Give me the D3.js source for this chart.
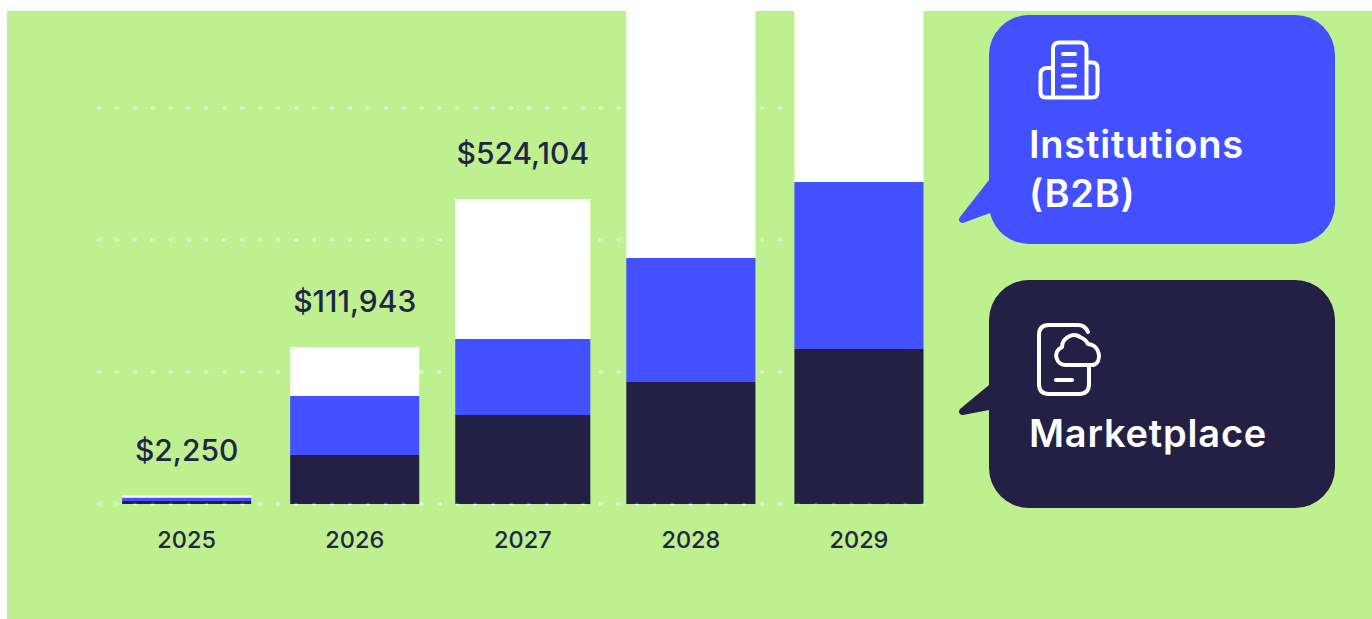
<!DOCTYPE html>
<html>
<head>
<meta charset="utf-8">
<script src="https://cdn.jsdelivr.net/npm/d3@7/dist/d3.min.js"></script>
<style>
  html, body { margin: 0; padding: 0; background: #fff; }
  svg { display: block; }
  text { font-family: Inter, "Noto Sans", sans-serif; }
</style>
</head>
<body>
<svg id="chart" width="1372" height="619"></svg>
<script>
// Revenue by year, stacked by channel (USD)
const years = ["2025", "2026", "2027", "2028", "2029"];
const marketplace = [800, 32200, 61700, 86100, 110500];
const institutions = [900, 43550, 72500, 273700, 460950];
const other = [550, 36193, 389904, 740200, 728550];
const totalLabels = ["$2,250", "$111,943", "$524,104", null, null];
const gridValues = [0, 93500, 410000, 777500];

// The published chart is not drawn to a single linear scale, so the axis is piecewise.
const scaleStops = [0, 2250, 111943, 524104, 1500000];
const scaleRange = [504, 495.5, 347, 199, -151];

const colors = { panel: "#BFF08F", dark: "#231F45", blue: "#4250FF", white: "#FFFFFF", ink: "#232547" };

const svg = d3.select("#chart");

svg.append("rect").attr("x", 7).attr("y", 11).attr("width", 1365).attr("height", 608).attr("fill", colors.panel);
svg.append("clipPath").attr("id", "panel-clip")
  .append("rect").attr("x", 7).attr("y", 11).attr("width", 1365).attr("height", 608);

const x = d3.scaleBand().domain(years).range([102.6, 943]).paddingInner(0.232).paddingOuter(0.116);
const y = d3.scaleLinear().domain(scaleStops).range(scaleRange);

// Dotted guide lines sit behind the bars
const dotted = sel => sel
  .attr("stroke", "#fff").attr("stroke-width", 2.8).attr("stroke-linecap", "round")
  .attr("stroke-dasharray", "1.2 16.72");

svg.append("g").selectAll("line").data(gridValues).join("line")
  .attr("x1", 98.4).attr("x2", 786)
  .attr("y1", d => y(d)).attr("y2", d => y(d))
  .call(dotted).attr("stroke-opacity", 0.7);

// Stacked bars
const rows = years.map((year, i) => ({ year, marketplace: marketplace[i], institutions: institutions[i], other: other[i] }));
const stack = d3.stack().keys(["marketplace", "institutions", "other"])(rows);
const fills = { marketplace: colors.dark, institutions: colors.blue, other: colors.white };
const widen = d => d.data.year === "2027" ? 3 : 0;

svg.append("g").attr("clip-path", "url(#panel-clip)")
  .selectAll("g").data(stack).join("g").attr("fill", s => fills[s.key])
  .selectAll("rect").data(s => s).join("rect")
  .attr("x", d => x(d.data.year) - widen(d))
  .attr("width", d => x.bandwidth() + 2 * widen(d))
  .attr("y", d => y(d[1]))
  .attr("height", d => y(d[0]) - y(d[1]));

// Baseline dots show faintly across the dark bars
svg.append("line").attr("x1", 134.2).attr("x2", 925).attr("y1", y(0)).attr("y2", y(0))
  .call(dotted).attr("stroke-opacity", 0.2);

// Year labels
const xAxis = d3.axisBottom(x).tickSize(0).tickPadding(0);
const axisG = svg.append("g").attr("transform", "translate(0,548)").call(xAxis);
axisG.select(".domain").remove();
axisG.selectAll("text")
  .attr("y", 0).attr("dy", 0)
  .attr("font-size", 23.5).attr("font-weight", 500).attr("fill", colors.ink)
  .style("font-family", 'Inter, "Noto Sans", sans-serif');

// Totals above the bars
const totals = years.map((year, i) => ({ year, label: totalLabels[i], value: marketplace[i] + institutions[i] + other[i] }))
  .filter(d => d.label);
svg.append("g").selectAll("text").data(totals).join("text")
  .attr("x", d => x(d.year) + x.bandwidth() / 2)
  .attr("y", d => y(d.value) - 35)
  .attr("text-anchor", "middle")
  .attr("font-size", 30).attr("font-weight", 500).attr("fill", colors.ink)
  .text(d => d.label);

// Speech-bubble legend
function bubblePath(left, top, right, bottom, r, tail) {
  const lowerLeft = tail.join[1] > bottom - r
    ? `A${r},${r} 0 0 1 ${tail.join[0]},${tail.join[1]}`
    : `A${r},${r} 0 0 1 ${left},${bottom - r} V${tail.join[1]}`;
  return `M${left + r},${top} H${right - r} A${r},${r} 0 0 1 ${right},${top + r}
    V${bottom - r} A${r},${r} 0 0 1 ${right - r},${bottom} H${left + r}
    ${lowerLeft}
    L${tail.tip[0] + 3},${tail.tip[1] + 3} Q${tail.tip[0] - 3},${tail.tip[1] + 2} ${tail.tip[0]},${tail.tip[1] - 3}
    L${left},${tail.start} V${top + r} A${r},${r} 0 0 1 ${left + r},${top} Z`;
}

svg.append("path").attr("fill", colors.blue)
  .attr("d", bubblePath(989, 15, 1335, 244, 40, { start: 180, tip: [960, 220], join: [990, 213] }));
svg.append("path").attr("fill", colors.dark)
  .attr("d", bubblePath(989, 280, 1335, 508, 40, { start: 385, tip: [960, 412], join: [989, 410] }));

const iconStroke = sel => sel.attr("fill", "none").attr("stroke", "#fff")
  .attr("stroke-width", 4).attr("stroke-linecap", "round").attr("stroke-linejoin", "round");

// Building icon
svg.append("path").call(iconStroke).attr("d",
  `M1053,97.5 V49 Q1053,42.5 1059.5,42.5 H1080 Q1086.5,42.5 1086.5,49 V97.5
   M1053,68 H1047 Q1040.5,68 1040.5,74.5 V92 Q1040.5,97.5 1046,97.5 H1092 Q1097.5,97.5 1097.5,92 V68 Q1097.5,62.5 1092,62.5 H1086.5
   M1063,54 H1075 M1063,65 H1075 M1063,75.5 H1075 M1063,86.5 H1075`);

// Phone-and-cloud icon
svg.append("path").call(iconStroke).attr("d",
  `M1089,366 V384 Q1089,394 1079,394 H1049 Q1039,394 1039,384 V335 Q1039,325 1049,325 H1078 Q1085,325 1088,332
   M1056,380 H1072
   M1093,365 H1066 C1056,365 1052,352 1062,347 C1062,338 1073,332 1080,337 C1085,339 1087,342 1088,344 C1100,345 1103,362 1093,365 Z`);

const legend = [
  { lines: ["Institutions", "(B2B)"], baselines: [158, 207] },
  { lines: ["Marketplace"], baselines: [447] }
];
svg.append("g").selectAll("g").data(legend).join("g")
  .selectAll("text").data(d => d.lines.map((t, i) => ({ t, b: d.baselines[i] }))).join("text")
  .attr("x", 1029).attr("y", d => d.b)
  .attr("font-size", 38).attr("font-weight", 600).attr("letter-spacing", 0.8).attr("fill", "#fff")
  .text(d => d.t);
</script>
</body>
</html>
